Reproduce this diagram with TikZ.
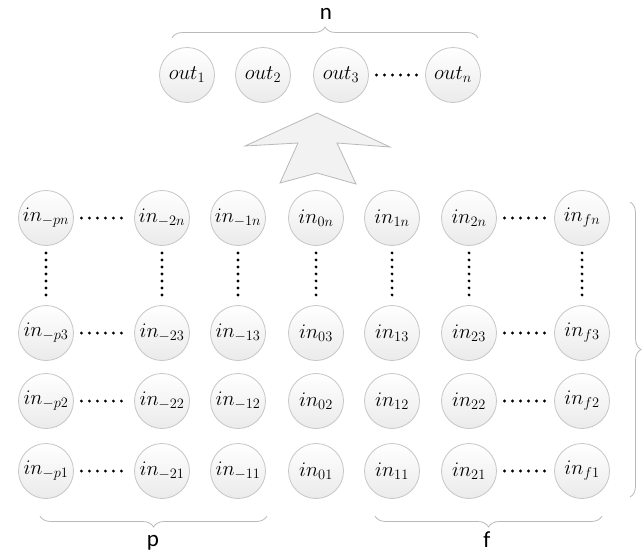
\documentclass[tikz,border=0pt]{standalone}
\usepackage{fontspec}
\newfontfamily\labfont{Carlito}
\usetikzlibrary{decorations.pathreplacing}
\begin{document}
\begin{tikzpicture}[x=1pt,y=-1pt,
  neuron/.style={circle, minimum size=55pt, inner sep=0pt, draw=gray!45, line width=0.8pt,
    top color=white, bottom color=gray!16, font=\fontsize{21.5}{23}\selectfont},
  hdots/.style={line width=3.2pt, line cap=round, dash pattern=on 0pt off 8pt, shorten <=7.5pt, shorten >=7.5pt},
  vdots/.style={line width=3.2pt, line cap=round, dash pattern=on 0pt off 7pt, shorten <=7pt, shorten >=7pt},
  gbrace/.style={draw=gray!55, line width=0.8pt, decorate, decoration={brace, amplitude=11pt}},
  blabel/.style={font=\labfont\fontsize{23}{25}\selectfont, inner sep=0pt},
  bigarrow/.style={draw=gray!55, fill=gray!10, line width=0.8pt, line join=miter}
]
\useasboundingbox (0,0) rectangle (644,554);

% outputs
\node[neuron] (o1) at (187,75) {$out_1$};
\node[neuron] (o2) at (263,75) {$out_2$};
\node[neuron] (o3) at (341,75) {$out_3$};
\node[neuron] (on) at (453,75) {$out_n$};
\draw[hdots] (o3) -- (on);

% top brace
\coordinate (nb1) at (172,38);
\coordinate (nb2) at (478,38);
\draw[gbrace] (nb1) -- (nb2);
\node[blabel] (nlab) at (326,14) {n};

% arrow
\draw[bigarrow] (317,113) -- (390,147) -- (337,143) -- (356,184) -- (317,173) -- (280,183) -- (298,143) -- (245,146) -- cycle;

% input grid
\foreach \c/\x/\s in {mp/46/-p, m2/162/-2, m1/238/-1, z/316/0, a/392/1, b/469/2, f/582/f}{
  \foreach \r/\y in {n/218, 3/333, 2/401, 1/471}{
    \node[neuron] (i\c\r) at (\x,\y) {$in_{\s\r}$};
  }
  \draw[vdots] (i\c n) -- (i\c 3);
}
\foreach \r in {n,3,2,1}{
  \draw[hdots] (imp\r) -- (im2\r);
  \draw[hdots] (ib\r) -- (if\r);
}

% bottom braces
\coordinate (pb1) at (267,516);
\coordinate (pb2) at (40,516);
\draw[gbrace] (pb1) -- (pb2);
\node[blabel] (plab) at (153,543) {p};
\coordinate (fb1) at (602,516);
\coordinate (fb2) at (375,516);
\draw[gbrace] (fb1) -- (fb2);
\node[blabel] (flab) at (487,540) {f};

% right brace
\coordinate (rb1) at (630,202);
\coordinate (rb2) at (630,497);
\draw[gbrace] (rb1) -- (rb2);
\end{tikzpicture}
\end{document}
